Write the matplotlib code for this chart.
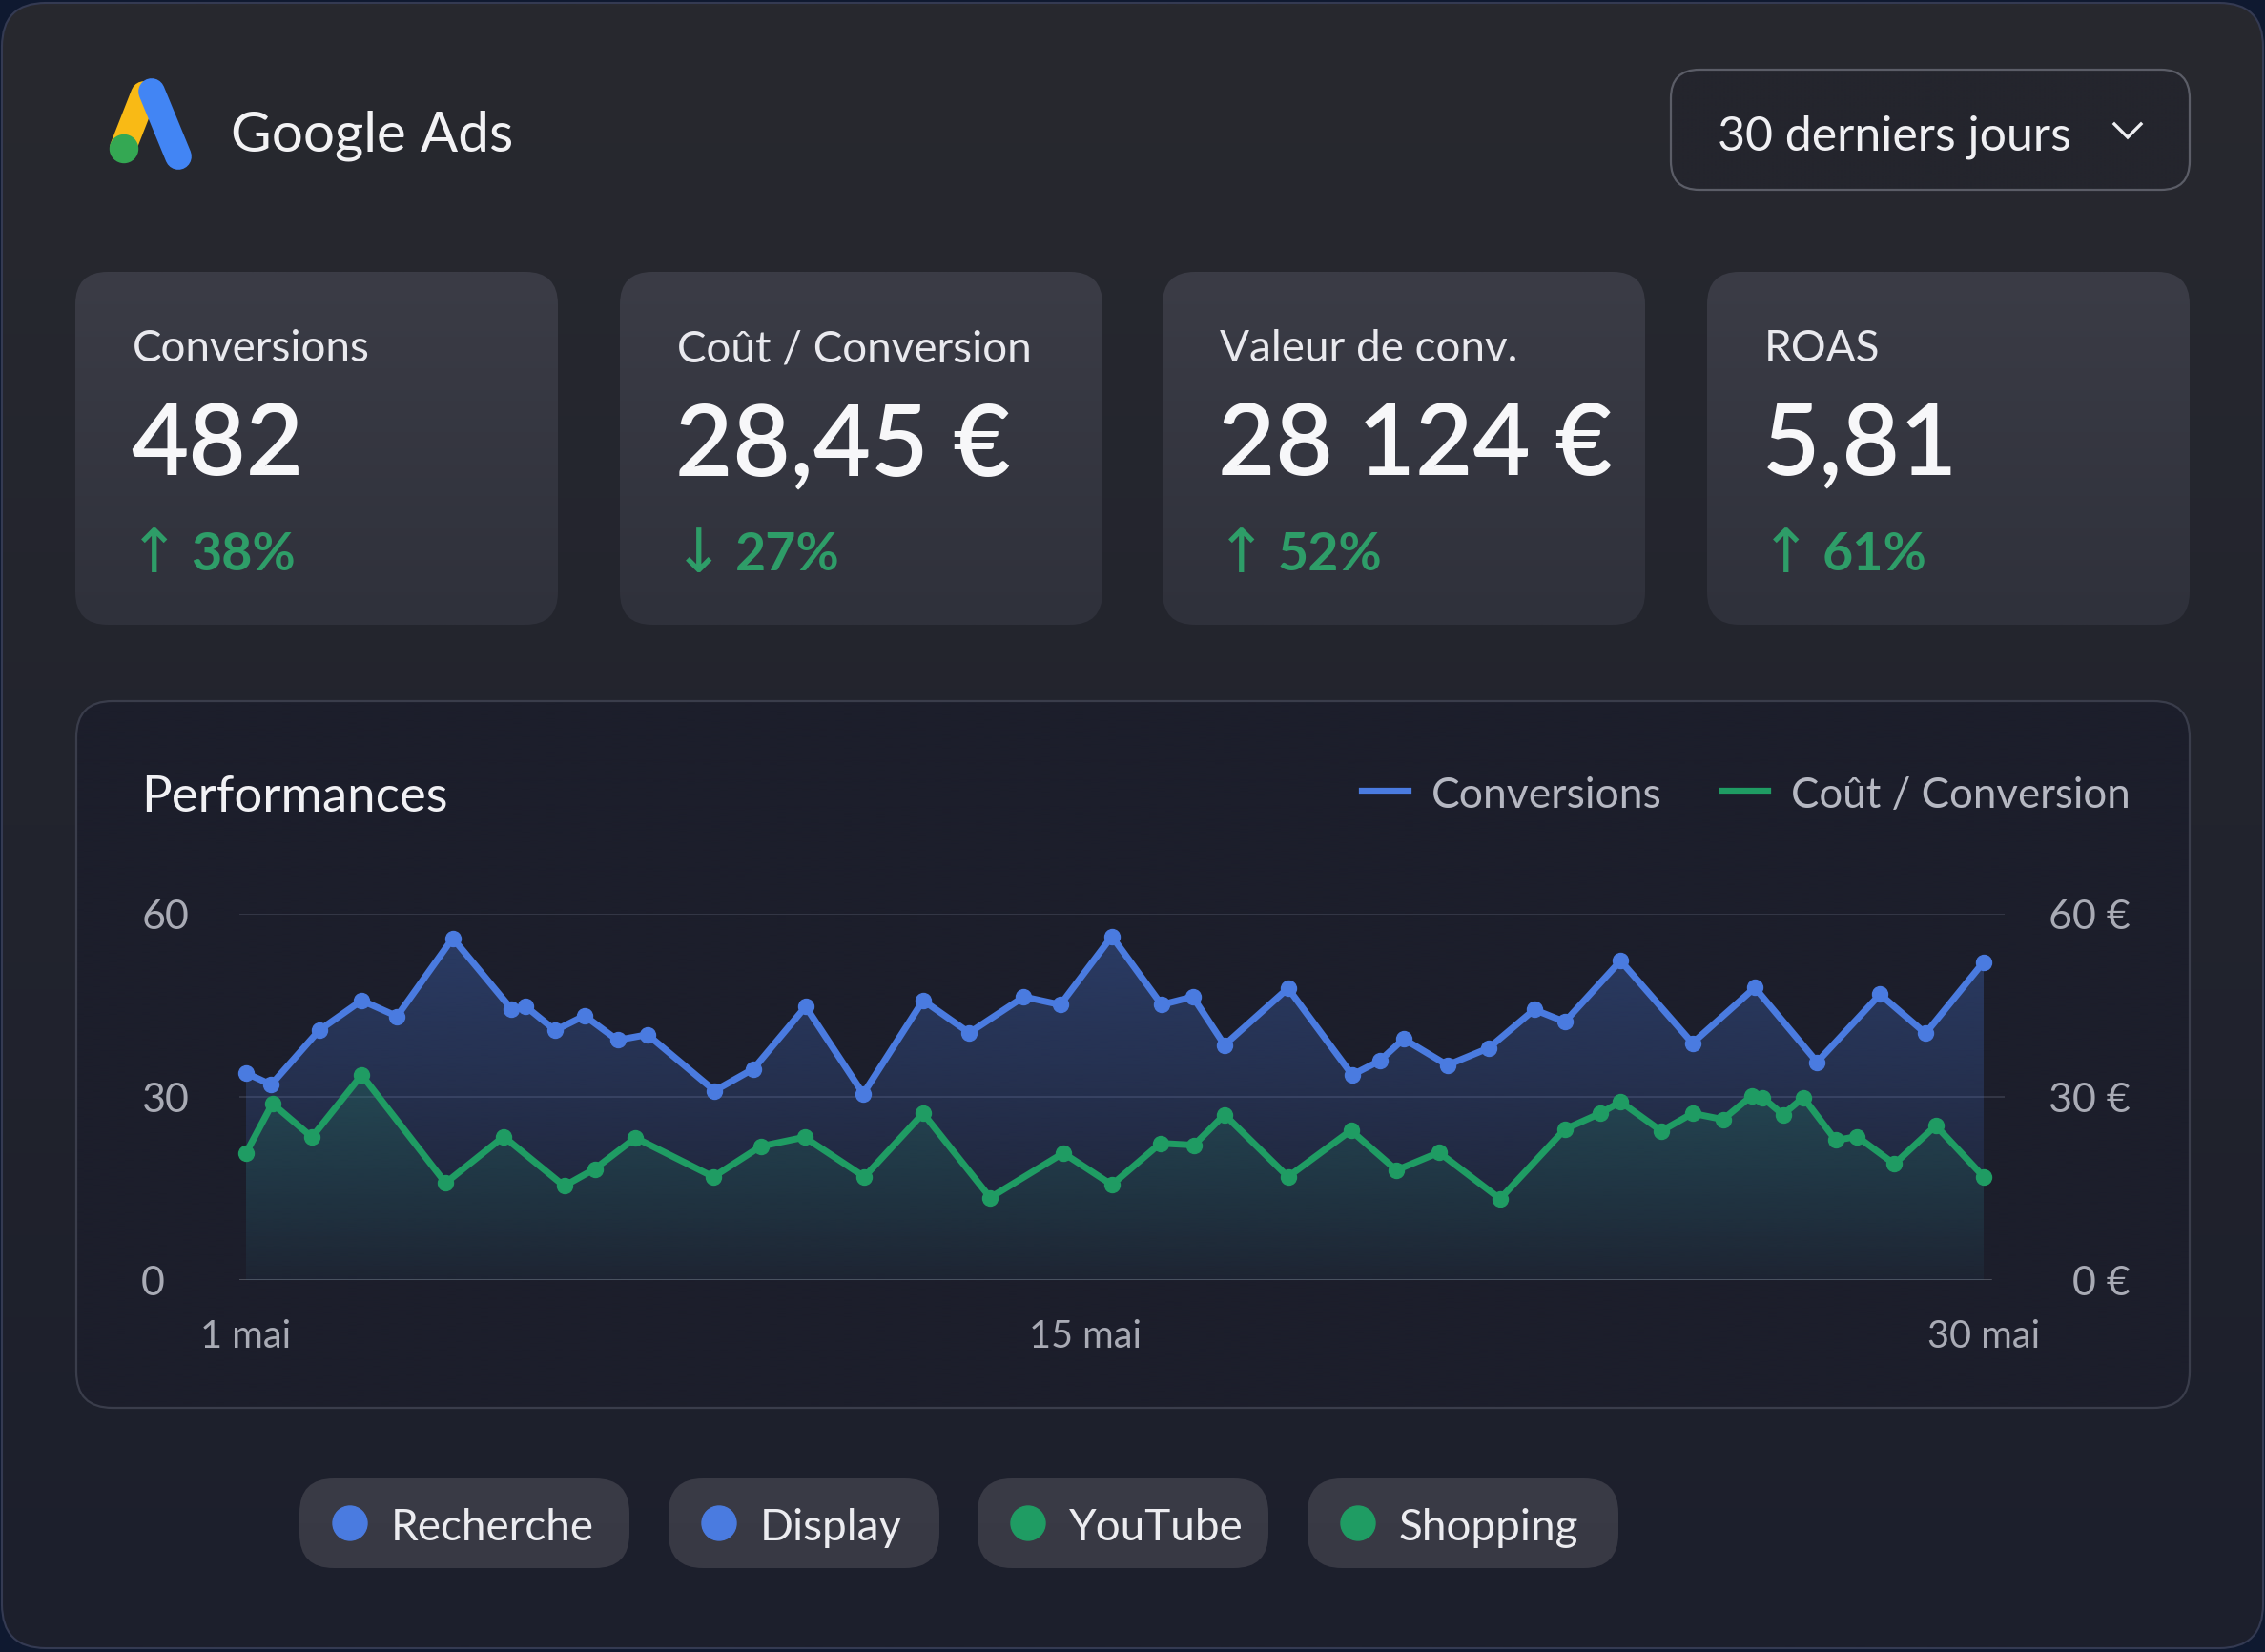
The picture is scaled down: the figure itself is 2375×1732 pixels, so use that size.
import numpy as np
import matplotlib.pyplot as plt
from matplotlib.patches import FancyBboxPatch, Circle, PathPatch
from matplotlib.lines import Line2D

W, H = 2375, 1733
DPI = 100

BLEU = "#4a7be0"
VERT = "#1f9c63"

# Conversions : jour de mai et valeur
conv_jours = [1.00, 1.42, 2.22, 2.93, 3.52, 4.45, 5.43, 5.67, 6.16, 6.65, 7.20, 7.70,
              8.82, 9.47, 10.34, 11.30, 12.30, 13.07, 13.98, 14.59, 15.45, 16.28, 16.80,
              17.33, 18.39, 19.46, 19.92, 20.32, 21.05, 21.74, 22.50, 23.01, 23.94, 25.14,
              26.18, 27.22, 28.27, 29.03, 30.00]
conv_vals = [33.9, 32.0, 40.9, 45.8, 43.2, 56.0, 44.4, 44.8, 40.9, 43.3, 39.3, 40.2,
             31.0, 34.6, 44.8, 30.5, 45.8, 40.5, 46.4, 45.1, 56.3, 45.1, 46.4,
             38.5, 47.8, 33.6, 35.9, 39.5, 35.2, 38.0, 44.3, 42.3, 52.3, 38.8,
             47.9, 35.7, 46.8, 40.4, 52.1]

# Coût / conversion (en €)
cout_jours = [1.00, 1.44, 2.10, 2.93, 4.33, 5.30, 6.31, 6.82, 7.50, 8.80, 9.59, 10.32,
              11.32, 12.30, 13.42, 14.64, 15.45, 16.26, 16.82, 17.33, 18.39, 19.44, 20.20,
              20.91, 21.93, 23.01, 23.60, 23.94, 24.62, 25.14, 25.65, 26.13, 26.31, 26.65,
              26.99, 27.53, 27.89, 28.51, 29.20, 30.00]
cout_vals = [20.8, 28.9, 23.4, 33.6, 15.9, 23.5, 15.4, 18.2, 23.3, 16.9, 21.9, 23.4,
             16.9, 27.3, 13.5, 20.8, 15.6, 22.4, 22.1, 27.1, 16.9, 24.5, 18.0,
             20.9, 13.3, 24.7, 27.3, 29.2, 24.4, 27.3, 26.3, 30.2, 29.9, 27.1,
             29.9, 22.9, 23.5, 19.0, 25.3, 16.9]

kpi_titres = ["Conversions", "Coût / Conversion", "Valeur de conv.", "ROAS"]
kpi_valeurs = ["482", "28,45 €", "28 124 €", "5,81"]
kpi_fleches = ["↑", "↓", "↑", "↑"]
kpi_evol = ["38%", "27%", "52%", "61%"]

canaux = ["Recherche", "Display", "YouTube", "Shopping"]
canaux_couleurs = [BLEU, BLEU, VERT, VERT]

y_ticks = [0, 30, 60]
x_ticks = [1, 15, 30]
x_labels = ["1 mai", "15 mai", "30 mai"]

plt.rcParams['font.family'] = ['Lato', 'DejaVu Sans']


def boite(ax, x, y, w, h, r, haut, bas=None, bord=None, lw=0, z=1):
    # rectangle arrondi, rempli d'un dégradé vertical
    p = FancyBboxPatch((x, y), w, h, boxstyle=f"round,pad=0,rounding_size={r}",
                       fc='none', ec=bord if bord else 'none', lw=lw, zorder=z + 0.1)
    ax.add_patch(p)
    bas = bas or haut
    c1 = np.array(plt.matplotlib.colors.to_rgba(haut))
    c2 = np.array(plt.matplotlib.colors.to_rgba(bas))
    t = np.linspace(0, 1, 256)[:, None, None]
    img = c1 * (1 - t) + c2 * t
    im = ax.imshow(img, extent=[x, x + w, y + h, y], aspect='auto', zorder=z,
                   interpolation='bilinear')
    im.set_clip_path(p)
    return p


fig = plt.figure(figsize=(W / DPI, H / DPI), dpi=DPI, facecolor="#0f1930")
bg = fig.add_axes([0, 0, 1, 1])
bg.set_axis_off()

# carte principale
boite(bg, 2, 4, W - 4, H - 8, 46, "#28292f", "#1c1f2c", bord="#343a52", lw=1.5, z=0)

# logo Google Ads
bg.add_line(Line2D([151, 129], [100, 156], color="#f9ba15", lw=20, solid_capstyle='round', zorder=3))
bg.add_line(Line2D([159, 187], [97, 165], color="#4285f4", lw=20, solid_capstyle='round', zorder=4))
bg.add_patch(Circle((130, 157), 14.5, color="#34a853", zorder=5))
bg.text(242, 158, "Google Ads", color="#f2f2f4", fontsize=42, va='baseline', zorder=5)

# sélecteur de période
boite(bg, 1752, 74, 544, 126, 30, "#24252d", bord="#5b5d67", lw=1.6, z=2)
bg.text(1801, 157, "30 derniers jours", color="#f0f0f3", fontsize=36, va='baseline', zorder=5)
bg.add_line(Line2D([2217, 2231, 2245], [131, 145, 131], color="#f0f0f3", lw=2.4,
                   solid_joinstyle='miter', zorder=5))

# cartes KPI
cartes_x = [79, 650, 1219, 1790]
for i, x0 in enumerate(cartes_x):
    boite(bg, x0, 286, 506, 370, 34, "#3b3c46", "#2f313b", z=2)
    bg.text(x0 + 60, 379, kpi_titres[i], color="#e9e9ee", fontsize=33, va='baseline', zorder=5)
    bg.text(x0 + 58, 498, kpi_valeurs[i], color="#f7f7f9", fontsize=75, fontweight='semibold',
            va='baseline', zorder=5)
    bg.text(x0 + 56, 600, kpi_fleches[i], color="#2e9d68", fontsize=46, family='DejaVu Sans',
            va='baseline', zorder=5)
    bg.text(x0 + 121, 598, kpi_evol[i], color="#2e9d68", fontsize=40, fontweight='bold',
            va='baseline', zorder=5)

# panneau du graphique
boite(bg, 80, 736, 2216, 741, 38, "#1c1e2b", "#1c1e2b", bord="#3a3d4b", lw=1.6, z=1)
bg.text(148, 851, "Performances", color="#f1f1f4", fontsize=38, va='baseline', zorder=5)
bg.add_line(Line2D([1428, 1477], [830, 830], color=BLEU, lw=4.5, zorder=5))
bg.text(1501, 847, "Conversions", color="#b6b8c2", fontsize=32, va='baseline', zorder=5)
bg.add_line(Line2D([1806, 1854], [830, 830], color=VERT, lw=4.5, zorder=5))
bg.text(1878, 847, "Coût / Conversion", color="#b6b8c2", fontsize=31.5, va='baseline', zorder=5)

# pastilles des canaux
pastilles_x = [314, 701, 1025, 1371]
pastilles_w = [346, 284, 305, 326]
for nom, coul, x0, w in zip(canaux, canaux_couleurs, pastilles_x, pastilles_w):
    boite(bg, x0, 1551, w, 94, 36, "#3a3b46", "#383944", z=2)
    bg.add_patch(Circle((x0 + 53, 1598), 18, color=coul, zorder=5))
    bg.text(x0 + 96, 1615, nom, color="#ececf0", fontsize=33, va='baseline', zorder=5)

bg.set_xlim(0, W)
bg.set_ylim(H, 0)

# graphique des performances
ax = fig.add_axes([251 / W, 1 - 1343 / H, (2102 - 251) / W, (1343 - 959) / H])
ax.patch.set_alpha(0)
ax.set_zorder(10)


def remplissage(ax, xs, ys, coul, a_haut, a_bas, z):
    coll = ax.fill_between(xs, ys, 0, facecolor='none', edgecolor='none')
    pp = PathPatch(coll.get_paths()[0], transform=ax.transData, fc='none', ec='none')
    ax.add_patch(pp)
    c = np.array(plt.matplotlib.colors.to_rgba(coul))
    t = np.linspace(0, 1, 256)[:, None]
    img = np.zeros((256, 1, 4))
    img[..., :3] = c[:3]
    img[..., 3] = a_bas + (a_haut - a_bas) * t
    im = ax.imshow(img, extent=[min(xs), max(xs), 0, max(ys)], origin='lower',
                   aspect='auto', zorder=z, interpolation='bilinear')
    im.set_clip_path(pp)


remplissage(ax, conv_jours, conv_vals, BLEU, 0.32, 0.04, 1)
remplissage(ax, cout_jours, cout_vals, VERT, 0.22, 0.03, 2)

for yv in y_ticks[1:]:
    ax.axhline(yv, color="#343746", lw=1.4, zorder=0)
ax.axhline(0, xmax=0.992, color="#5d606b", lw=1.8, zorder=0)

ax.plot(conv_jours, conv_vals, color=BLEU, lw=5, marker='o', ms=11.5,
        solid_joinstyle='round', zorder=4, clip_on=False)
ax.plot(cout_jours, cout_vals, color=VERT, lw=5, marker='o', ms=11.5,
        solid_joinstyle='round', zorder=4, clip_on=False)

ax.set_xlim(0.889, 30.35)
ax.set_ylim(0, 60)
for s in ax.spines.values():
    s.set_visible(False)
ax.set_xticks(x_ticks)
ax.set_xticklabels(x_labels)
ax.set_yticks(y_ticks)
ax.set_yticklabels([str(v) for v in y_ticks])
ax.tick_params(axis='x', length=0, pad=29, labelsize=28.5, labelcolor="#a9abb5")
ax.tick_params(axis='y', length=0, pad=74, labelsize=31, labelcolor="#a9abb5")
for lab in ax.get_yticklabels():
    lab.set_ha('left')

ax2 = ax.twinx()
ax2.set_ylim(0, 60)
ax2.set_yticks(y_ticks)
ax2.set_yticklabels([f"{v} €" for v in y_ticks])
ax2.tick_params(axis='y', length=0, pad=95, labelsize=31, labelcolor="#a9abb5")
for lab in ax2.get_yticklabels():
    lab.set_ha('right')
for s in ax2.spines.values():
    s.set_visible(False)

fig.savefig("out.png", dpi=DPI, facecolor=fig.get_facecolor())
